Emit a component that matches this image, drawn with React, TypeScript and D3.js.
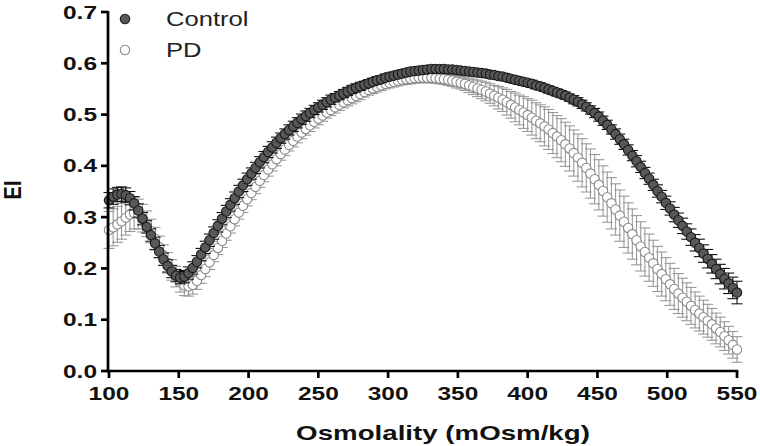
import React from "react";
import * as d3 from "d3";

// Osmolality grid (mOsm/kg)
const osmolality = [
  100,103,106,109,112,115,118,121,124,127,
  130,133,136,139,142,145,148,151,154,157,
  160,163,166,169,172,175,178,181,184,187,
  190,193,196,199,202,205,208,211,214,217,
  220,223,226,229,232,235,238,241,244,247,
  250,253,256,259,262,265,268,271,274,277,
  280,283,286,289,292,295,298,301,304,307,
  310,313,316,319,322,325,328,331,334,337,
  340,343,346,349,352,355,358,361,364,367,
  370,373,376,379,382,385,388,391,394,397,
  400,403,406,409,412,415,418,421,424,427,
  430,433,436,439,442,445,448,451,454,457,
  460,463,466,469,472,475,478,481,484,487,
  490,493,496,499,502,505,508,511,514,517,
  520,523,526,529,532,535,538,541,544,547,
  550,
];

const controlMean = [
  0.333,0.340,0.344,0.345,0.343,0.337,0.327,0.313,0.297,0.281,
  0.265,0.249,0.233,0.218,0.205,0.194,0.186,0.182,0.184,0.191,
  0.201,0.213,0.227,0.241,0.255,0.269,0.283,0.297,0.311,0.324,
  0.337,0.350,0.362,0.374,0.385,0.396,0.407,0.417,0.427,0.436,
  0.445,0.454,0.462,0.470,0.477,0.484,0.491,0.497,0.503,0.509,
  0.514,0.519,0.524,0.529,0.533,0.537,0.541,0.545,0.549,0.552,
  0.555,0.558,0.561,0.564,0.567,0.569,0.572,0.574,0.576,0.578,
  0.580,0.582,0.584,0.585,0.586,0.587,0.588,0.589,0.589,0.589,
  0.589,0.588,0.588,0.587,0.586,0.585,0.584,0.583,0.582,0.581,
  0.580,0.578,0.577,0.575,0.574,0.572,0.570,0.568,0.566,0.564,
  0.562,0.560,0.557,0.555,0.552,0.549,0.546,0.543,0.540,0.537,
  0.533,0.529,0.525,0.520,0.515,0.509,0.503,0.496,0.488,0.480,
  0.471,0.462,0.452,0.442,0.431,0.420,0.409,0.398,0.386,0.375,
  0.363,0.351,0.340,0.328,0.317,0.305,0.294,0.283,0.272,0.261,
  0.250,0.240,0.229,0.219,0.209,0.199,0.189,0.180,0.171,0.162,
  0.153,
];

const controlSem = [
  0.015,0.015,0.014,0.014,0.014,0.013,0.013,0.013,
  0.012,0.012,0.012,0.012,0.012,0.012,0.012,0.012,0.012,
  0.012,0.012,0.012,0.012,0.012,0.012,0.012,0.012,0.012,0.012,0.012,0.012,0.012,0.012,
  0.012,0.012,0.012,0.011,0.011,0.011,0.011,0.011,0.011,0.011,0.010,0.010,0.010,0.010,0.010,0.010,0.010,0.009,0.009,0.009,
  0.009,0.009,0.009,0.008,0.008,0.008,0.008,0.008,0.008,0.008,
  0.007,0.007,0.007,0.007,0.007,0.007,0.007,0.006,0.006,0.006,
  0.006,0.006,0.006,0.006,0.006,0.006,0.006,0.006,0.006,0.006,
  0.006,0.006,0.006,0.006,0.006,0.006,0.006,0.006,0.006,0.006,
  0.006,0.006,0.006,0.006,0.006,0.006,0.006,0.006,0.006,0.006,
  0.007,0.007,0.007,0.007,0.007,0.007,0.007,0.007,0.007,0.007,
  0.008,0.008,0.008,0.008,0.008,0.009,0.009,0.009,0.009,0.009,
  0.010,0.010,0.010,0.010,0.010,0.011,0.011,0.011,0.011,0.011,
  0.012,0.012,0.013,0.013,0.014,0.014,0.015,0.015,0.016,0.016,
  0.017,0.017,0.018,0.018,0.019,0.019,0.020,0.020,0.021,0.022,
];

const pdMean = [
  0.275,0.280,0.286,0.292,0.299,0.305,0.308,0.306,0.298,0.287,
  0.273,0.258,0.242,0.226,0.211,0.197,0.184,0.174,0.167,0.165,
  0.168,0.176,0.187,0.199,0.212,0.226,0.240,0.254,0.268,0.282,
  0.296,0.309,0.322,0.335,0.347,0.359,0.371,0.382,0.393,0.403,
  0.413,0.423,0.432,0.441,0.449,0.457,0.465,0.472,0.479,0.486,
  0.492,0.498,0.504,0.509,0.514,0.519,0.524,0.528,0.532,0.536,
  0.540,0.544,0.548,0.551,0.554,0.557,0.560,0.562,0.564,0.566,
  0.568,0.569,0.570,0.571,0.572,0.572,0.572,0.572,0.571,0.570,
  0.569,0.568,0.566,0.564,0.562,0.560,0.557,0.554,0.551,0.548,
  0.545,0.541,0.537,0.533,0.529,0.524,0.519,0.514,0.509,0.504,
  0.499,0.494,0.488,0.483,0.477,0.471,0.464,0.457,0.450,0.442,
  0.434,0.425,0.416,0.406,0.396,0.385,0.374,0.363,0.351,0.339,
  0.327,0.315,0.303,0.291,0.279,0.267,0.255,0.243,0.232,0.221,
  0.210,0.199,0.189,0.179,0.169,0.160,0.151,0.143,0.135,0.127,
  0.119,0.112,0.105,0.098,0.091,0.083,0.076,0.068,0.060,0.051,
  0.042,
];

const pdSem = [
  0.036,0.036,0.035,0.035,0.034,0.033,0.031,0.029,
  0.027,0.025,0.023,0.022,0.021,0.020,0.020,0.020,0.020,
  0.020,0.020,0.019,0.018,0.017,0.016,0.015,0.014,0.013,0.013,0.013,0.013,0.013,0.013,
  0.013,0.013,0.013,0.013,0.013,0.013,0.013,0.013,0.013,0.013,
  0.012,0.012,0.012,0.012,0.012,0.012,0.012,0.012,0.012,0.012,
  0.011,0.011,0.011,0.011,0.011,0.011,0.011,0.011,0.011,0.011,
  0.010,0.010,0.010,0.010,0.010,0.010,0.010,0.010,0.010,0.010,
  0.010,0.010,0.010,0.010,0.010,0.010,0.010,0.010,0.010,0.010,
  0.011,0.011,0.012,0.012,0.013,0.014,0.015,0.016,0.017,0.018,
  0.019,0.020,0.022,0.023,0.025,0.026,0.028,0.029,0.031,0.032,
  0.034,0.035,0.036,0.038,0.039,0.040,0.041,0.042,0.043,0.044,
  0.045,0.046,0.047,0.047,0.048,0.048,0.049,0.049,0.049,0.050,
  0.050,0.050,0.050,0.049,0.049,0.048,0.048,0.047,0.046,0.045,
  0.044,0.043,0.042,0.041,0.040,0.039,0.038,0.037,0.036,0.035,
  0.034,0.033,0.032,0.031,0.030,0.029,0.028,0.027,0.026,0.025,
];

const xTicks = [100, 150, 200, 250, 300, 350, 400, 450, 500, 550];
const yTicks = [0, 0.1, 0.2, 0.3, 0.4, 0.5, 0.6, 0.7];
const seriesNames = ["Control", "PD"];
const xTitle = "Osmolality (mOsm/kg)";
const yTitle = "EI";

const W = 760;
const H = 446;
const FONT = "'Liberation Sans', Arial, sans-serif";
const SX = 1.36;

export default function App() {
  const x = d3.scaleLinear().domain([100, 550]).range([109, 737]);
  const y = d3.scaleLinear().domain([0, 0.7]).range([371, 12]);
  const axisX = 108;
  const axisY = 371;
  const cap = 5.5;
  const r = 4.7;

  const errBars = (mean: number[], sem: number[], color: string, key: string) =>
    osmolality.map((o, i) => {
      const cx = x(o);
      const y1 = y(mean[i] + sem[i]);
      const y2 = y(mean[i] - sem[i]);
      return (
        <g key={key + i} stroke={color} strokeWidth={1.1}>
          <line x1={cx} x2={cx} y1={y1} y2={y2} />
          <line x1={cx - cap} x2={cx + cap} y1={y1} y2={y1} />
          <line x1={cx - cap} x2={cx + cap} y1={y2} y2={y2} />
        </g>
      );
    });

  const markers = (mean: number[], fill: string, stroke: string, key: string) =>
    osmolality.map((o, i) => (
      <circle key={key + i} cx={x(o)} cy={y(mean[i])} r={r} fill={fill} stroke={stroke} strokeWidth={1.1} />
    ));

  return (
    <svg width={W} height={H} style={{ position: "absolute", left: 0, top: 0, background: "#fff" }}>
      <rect width={W} height={H} fill="#fff" />
      {/* PD series */}
      {errBars(pdMean, pdSem, "#999999", "pe")}
      {markers(pdMean, "#ffffff", "#8a8a8a", "pm")}
      {/* Control series */}
      {errBars(controlMean, controlSem, "#111111", "ce")}
      {markers(controlMean, "#585858", "#1a1a1a", "cm")}

      {/* Axes */}
      <g stroke="#000" strokeWidth={2.7} fill="none">
        <line x1={axisX} x2={axisX} y1={y(0.7) - 1} y2={axisY + 1.3} />
        <line x1={axisX - 1.3} x2={x(550) + 1.3} y1={axisY} y2={axisY} />
        {yTicks.map((t) => (
          <line key={"yt" + t} x1={axisX - 7} x2={axisX} y1={y(t)} y2={y(t)} />
        ))}
        {xTicks.map((t) => (
          <line key={"xt" + t} x1={x(t)} x2={x(t)} y1={axisY} y2={axisY + 7} />
        ))}
      </g>
      <g fontFamily={FONT} fontWeight="bold" fontSize={18} fill="#111">
        {yTicks.map((t) => (
          <text key={"yl" + t} transform={`translate(${axisX - 11},${y(t) + 6.5}) scale(${SX},1)`} textAnchor="end">
            {t.toFixed(1)}
          </text>
        ))}
        {xTicks.map((t) => (
          <text key={"xl" + t} transform={`translate(${x(t)},${400}) scale(${SX},1)`} textAnchor="middle">
            {t}
          </text>
        ))}
      </g>
      <text
        transform={`translate(443,440) scale(1.42,1)`}
        textAnchor="middle"
        fontFamily={FONT}
        fontWeight="bold"
        fontSize={19.5}
        fill="#111"
      >
        {xTitle}
      </text>
      <text
        transform={`translate(21,190) rotate(-90) scale(1.05,1.3)`}
        textAnchor="middle"
        fontFamily={FONT}
        fontWeight="bold"
        fontSize={19}
        fill="#111"
      >
        {yTitle}
      </text>

      {/* Legend */}
      <circle cx={125} cy={19} r={4.7} fill="#585858" stroke="#1a1a1a" strokeWidth={1.1} />
      <circle cx={125} cy={50} r={4.7} fill="#fff" stroke="#8a8a8a" strokeWidth={1.1} />
      <g fontFamily={FONT} fontSize={20} fill="#222">
        <text transform={`translate(166,26) scale(1.28,1)`}>{seriesNames[0]}</text>
        <text transform={`translate(166,57) scale(1.28,1)`}>{seriesNames[1]}</text>
      </g>
    </svg>
  );
}
